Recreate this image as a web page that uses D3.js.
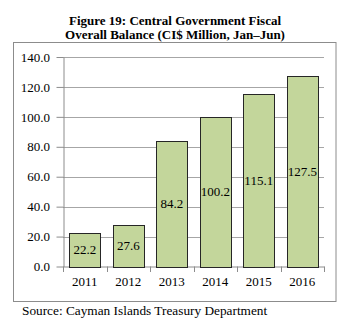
<!DOCTYPE html>
<html><head><meta charset="utf-8">
<script src="https://cdn.jsdelivr.net/npm/d3@7"></script>
<style>html,body{margin:0;padding:0;background:#fff;}svg{display:block;}</style>
</head><body><div id="chart"></div>
<script>
const years = ["2011","2012","2013","2014","2015","2016"];
const balance = [22.2, 27.6, 84.2, 100.2, 115.1, 127.5];
const yTicks = [0,20,40,60,80,100,120,140];
const titleLines = ["Figure 19: Central Government Fiscal","Overall Balance (CI$ Million, Jan\u2013Jun)"];
const sourceText = "Source: Cayman Islands Treasury Department";

const W = 348, H = 328;
const font = "'Liberation Serif', 'Times New Roman', serif";
const svg = d3.select("#chart").append("svg").attr("width", W).attr("height", H);

// title
svg.append("g").selectAll("text").data(titleLines).join("text")
  .attr("x", 175).attr("y", (d,i) => 25 + i*13.5)
  .attr("text-anchor","middle").attr("font-family", font).attr("font-weight","bold")
  .attr("font-size", 13).attr("fill","#000").text(d => d);

// frame
svg.append("rect").attr("x", 13.5).attr("y", 42.5).attr("width", 322.5).attr("height", 259)
  .attr("fill","none").attr("stroke","#8c8c8c").attr("stroke-width",1);

const x = d3.scaleBand().domain(years).range([63, 324]).paddingInner(0.28).paddingOuter(0.14);
const y = d3.scaleLinear().domain([0,140]).range([266.5, 57]);

// gridlines
svg.append("g").selectAll("line").data(yTicks.filter(t => t>0)).join("line")
  .attr("x1", 63).attr("x2", 324).attr("y1", d => Math.round(y(d))+0.5).attr("y2", d => Math.round(y(d))+0.5)
  .attr("stroke","#a6a6a6").attr("stroke-width",1);

// y axis
const yAxis = svg.append("g").attr("transform","translate(63.5,0)")
  .call(d3.axisLeft(y).tickValues(yTicks).tickFormat(d3.format(".1f")).tickSize(7).tickSizeOuter(0));
yAxis.select(".domain").attr("stroke","#8c8c8c");
yAxis.selectAll(".tick line").attr("stroke","#8c8c8c");
yAxis.selectAll("text").attr("font-family", font).attr("font-size",13).attr("fill","#000").attr("x",-13.5);

// x axis
const xAxis = svg.append("g").attr("transform","translate(0,266.5)")
  .call(d3.axisBottom(x).tickSize(0).tickSizeOuter(0));
xAxis.select(".domain").attr("stroke","#8c8c8c");
xAxis.selectAll("text").attr("font-family", font).attr("font-size",13).attr("fill","#000").attr("dy","1.25em");
// boundary ticks
const step = x.step();
svg.append("g").selectAll("line").data(d3.range(years.length+1)).join("line")
  .attr("x1", d => Math.round(63 + d*step)+0.5).attr("x2", d => Math.round(63 + d*step)+0.5)
  .attr("y1", 266.5).attr("y2", 272).attr("stroke","#8c8c8c");

// bars
svg.append("g").selectAll("rect").data(balance).join("rect")
  .attr("x", (d,i) => Math.round(x(years[i]))+0.5).attr("y", d => Math.round(y(d))+0.5)
  .attr("width", Math.round(x.bandwidth())).attr("height", d => Math.round(y(0)) - Math.round(y(d)))
  .attr("fill","#c3d69b").attr("stroke","#262626").attr("stroke-width",1);

// labels
svg.append("g").selectAll("text").data(balance).join("text")
  .attr("x", (d,i) => x(years[i]) + x.bandwidth()/2).attr("y", d => (y(d)+y(0))/2)
  .attr("dy","0.35em").attr("text-anchor","middle").attr("font-family", font).attr("font-size",13)
  .attr("fill","#000").text(d => d3.format(".1f")(d));

// source
svg.append("text").attr("x", 22).attr("y", 315).attr("font-family", font).attr("font-size",13.3)
  .attr("fill","#000").text(sourceText);
</script></body></html>
